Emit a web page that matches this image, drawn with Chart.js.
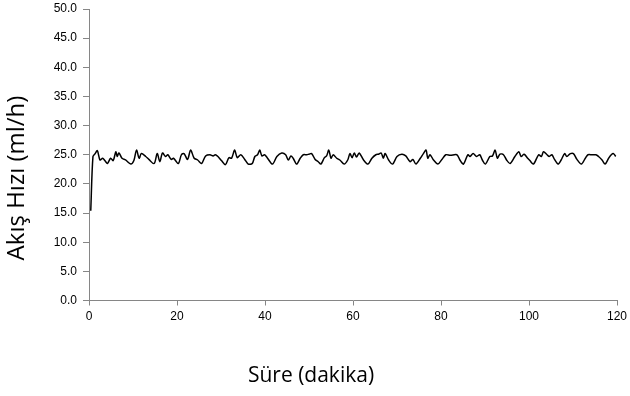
<!DOCTYPE html>
<html>
<head>
<meta charset="utf-8">
<script src="https://cdn.jsdelivr.net/npm/chart.js@4.4.1/dist/chart.umd.min.js"></script>
<style>
  html, body { margin: 0; padding: 0; background: #fff; }
  #wrap { width: 630px; height: 396px; }
</style>
</head>
<body>
<div id="wrap"><canvas id="flowChart"></canvas></div>
<script>
// Time (min) and measured flow rate (ml/h)
const minutes = [
  0.4, 0.9, 1.4, 1.9, 2.5, 3.1, 3.6, 4.2, 4.9, 5.5, 6.1, 6.4, 6.8, 7.5, 8.3, 9.5,
  10.2, 10.8, 11.4, 11.9, 12.9, 13.6, 14.8, 15.5, 16.1, 16.7, 17.4, 17.9, 18.7, 19.2,
  20.3, 21.0, 21.6, 22.4, 23.1, 23.9, 24.7, 25.6, 26.5, 27.5, 28.2, 28.7, 29.3,
  30.1, 31.0, 31.8, 32.4, 33.1, 33.7, 34.5, 35.4, 36.2, 37.1, 37.7, 38.3, 38.8, 39.3,
  39.9, 40.5, 41.7, 42.7, 43.8, 44.7, 45.3, 45.9, 46.4, 47.2, 48.0, 48.7, 49.5,
  50.0, 50.6, 51.4, 52.1, 52.7, 53.5, 54.0, 54.5, 55.0, 55.5, 56.3, 57.0, 58.0, 58.8,
  59.3, 59.8, 60.3, 60.8, 61.4, 62.4, 63.4, 64.3, 65.2, 65.8, 66.4, 66.9, 67.3, 68.1,
  69.0, 70.0, 71.1, 72.0, 73.0, 73.6, 74.3, 75.3, 76.0, 76.6, 77.0, 77.5, 78.3, 79.3,
  80.2, 81.1, 82.1, 83.6, 84.3, 85.1, 86.1, 86.6, 87.3, 88.1, 88.8, 89.4,
  90.1, 91.1, 91.7, 92.3, 92.8, 93.4, 94.2, 94.9, 95.7, 96.8, 97.7, 98.2, 98.9, 99.7,
  100.2, 101.0, 102.2, 102.8, 103.3, 104.1, 104.6, 105.2, 105.8, 106.6, 107.3, 108.1,
  108.6, 109.4, 110.1, 110.9, 111.9, 112.8, 113.4, 114.3, 115.2, 115.8, 116.6, 117.3,
  118.1, 118.7, 119.2, 119.7
];
const flowRate = [
  15.4, 24.7, 25.2, 25.7, 24.1, 24.4, 24.0, 23.5, 24.4, 24.0, 25.5, 24.7, 25.3, 24.4, 24.1, 23.4,
  24.0, 25.8, 24.4, 25.2, 24.7, 24.2, 23.5, 25.2, 23.8, 25.3, 24.7, 25.0, 24.2, 24.4,
  23.5, 25.0, 25.2, 24.2, 25.8, 24.4, 24.1, 23.5, 24.8, 25.0, 24.8, 25.0, 24.7,
  24.0, 23.3, 24.5, 24.4, 25.8, 24.5, 25.0, 24.2, 23.4, 23.5, 24.7, 25.0, 25.8, 24.8,
  25.0, 24.5, 23.4, 24.7, 25.3, 25.0, 24.1, 24.8, 24.4, 23.4, 24.4, 25.0, 25.0,
  25.1, 25.2, 24.2, 23.8, 23.4, 24.5, 24.8, 25.8, 24.4, 25.0, 24.4, 24.1, 23.4, 24.1,
  25.2, 24.5, 25.3, 24.6, 25.3, 24.1, 23.4, 24.4, 25.0, 25.1, 25.3, 24.4, 25.2, 24.1,
  23.4, 24.7, 25.1, 24.8, 23.8, 24.2, 23.4, 24.4, 25.2, 25.8, 24.4, 25.0, 24.1, 23.4,
  24.2, 25.0, 24.9, 25.0, 24.1, 23.4, 25.0, 24.7, 25.2, 24.7, 25.0, 24.1,
  23.4, 24.7, 24.8, 25.8, 24.4, 25.1, 25.0, 24.1, 23.5, 24.7, 25.5, 24.7, 25.1, 24.4,
  24.0, 23.4, 25.0, 24.7, 25.5, 25.0, 24.7, 25.0, 24.2, 23.4, 24.1, 25.2,
  24.7, 25.2, 25.2, 24.2, 23.4, 24.4, 25.0, 25.0, 25.0, 24.7, 24.1, 23.4,
  24.4, 25.0, 25.2, 24.7
];
const xTicks = [0, 20, 40, 60, 80, 100, 120];
const yTicks = [0, 5, 10, 15, 20, 25, 30, 35, 40, 45, 50];
const xLabel = 'Süre (dakika)';
const yLabel = 'Akış Hızı (ml/h)';

const axisColor = '#868686';
const tickFont = { family: 'Liberation Sans, Arial, sans-serif', size: 12 };

// axis titles sit off-centre, so draw them by hand
const axisTitles = {
  id: 'axisTitles',
  afterDraw(chart) {
    const ctx = chart.ctx;
    ctx.save();
    ctx.fillStyle = '#000';
    ctx.textAlign = 'center';
    ctx.textBaseline = 'middle';
    ctx.font = '21px "Open Sans", sans-serif';
    ctx.fillText(xLabel, 311, 376);
    ctx.translate(17, 178);
    ctx.rotate(-Math.PI / 2);
    ctx.font = '24px "Open Sans", sans-serif';
    ctx.fillText(yLabel, 0, 0);
    ctx.restore();
  }
};

function drawChart() {
  const points = minutes.map((m, i) => ({ x: m, y: flowRate[i] }));
  const ctx = document.getElementById('flowChart').getContext('2d');
  new Chart(ctx, {
    type: 'line',
    data: {
      datasets: [{
        data: points,
        borderColor: '#000',
        borderWidth: 1.5,
        pointRadius: 0,
        tension: 0.3,
        fill: false
      }]
    },
    options: {
      responsive: true,
      maintainAspectRatio: false,
      animation: false,
      layout: { padding: { top: 9, right: 13, left: 0, bottom: 0 } },
      plugins: { legend: { display: false }, tooltip: { enabled: false } },
      scales: {
        x: {
          type: 'linear',
          min: 0,
          max: 120,
          afterBuildTicks: s => { s.ticks = xTicks.map(v => ({ value: v })); },
          afterFit: s => { s.height = 95.5; s.paddingLeft = 0; s.paddingRight = 0; },
          ticks: { color: '#000', font: tickFont, padding: 4, maxRotation: 0 },
          grid: { drawOnChartArea: false, tickLength: 5, color: axisColor },
          border: { color: axisColor }
        },
        y: {
          min: 0,
          max: 50,
          afterBuildTicks: s => { s.ticks = yTicks.map(v => ({ value: v })); },
          afterFit: s => { s.width = 89; s.paddingTop = 0; s.paddingBottom = 0; },
          ticks: { color: '#000', font: tickFont, padding: 6, callback: v => v.toFixed(1) },
          grid: { drawOnChartArea: false, tickLength: 6, color: axisColor },
          border: { color: axisColor }
        }
      }
    },
    plugins: [axisTitles]
  });
}

document.addEventListener('DOMContentLoaded', drawChart);
</script>
</body>
</html>
